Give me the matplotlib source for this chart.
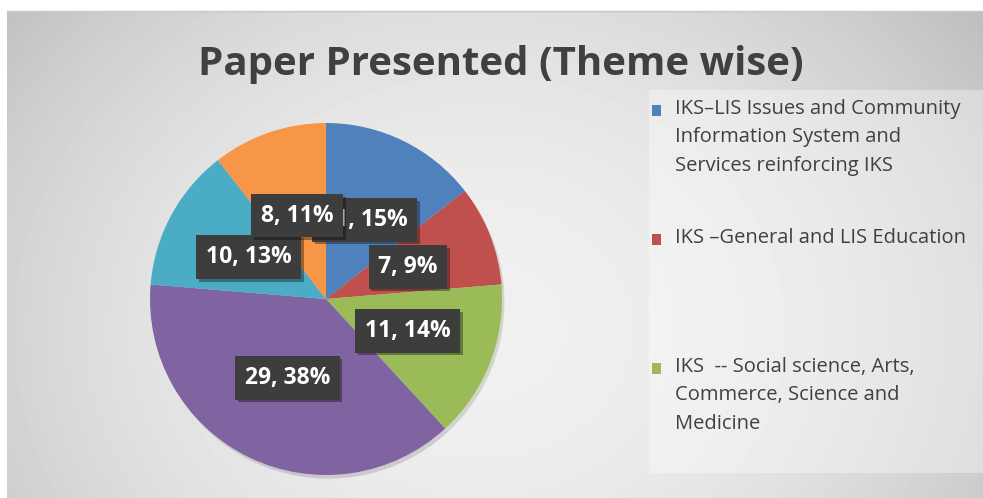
import numpy as np
import matplotlib.pyplot as plt
from matplotlib.patches import Rectangle
import matplotlib.patheffects as pe

# data (slices go clockwise from 12 o'clock)
values = [11, 7, 11, 29, 10, 8]
percents = [15, 9, 14, 38, 13, 11]
colors = ["#4F81BD", "#C0504D", "#9BBB59", "#8064A2", "#4BACC6", "#F79646"]

# only the first three entries of the legend are visible in the original
legend_labels = [
    "IKS\u2013LIS Issues and Community\nInformation System and\nServices reinforcing IKS",
    "IKS \u2013General and LIS Education",
    "IKS  -- Social science, Arts,\nCommerce, Science and\nMedicine",
]

W, H = 983, 498
TEXT = "#404040"
FONT = "Open Sans"


def fx(px):
    return px / W


def fy(py):
    return 1 - py / H


fig = plt.figure(figsize=(W / 100, H / 100), dpi=100)

# grey radial-ish background of the chart area
bg = fig.add_axes([0, 0, 1, 1])
bg.set_xlim(0, W)
bg.set_ylim(H, 0)
bg.axis("off")
xx, yy = np.meshgrid(np.arange(7, W), np.arange(11, H))
r2 = ((xx - 480) / 500.0) ** 2 + ((yy - 330) / 420.0) ** 2
lum = np.clip(240 - 32 * r2, 190, 242) / 255.0
bg.imshow(lum, cmap="gray", vmin=0, vmax=1, extent=(7, W, H, 11), aspect="auto")
bg.plot([7, W], [11, 11], color="#c8c8c8", lw=1)

# lighter legend panel
bg.add_patch(Rectangle((649, 90), W - 649, 383, facecolor="white", alpha=0.35,
                       edgecolor="none"))

# title
fig.text(fx(501), fy(64), "Paper Presented (Theme wise)", ha="center", va="center",
         fontsize=29, fontweight="bold", color=TEXT, family=FONT)

# pie
cx, cy, rad = 326, 299, 176
ax = fig.add_axes([fx(cx - rad), fy(cy + rad), 2 * rad / W, 2 * rad / H])
wedges, _ = ax.pie(values, colors=colors, startangle=90, counterclock=False,
                   radius=1, wedgeprops=dict(linewidth=0),
                   shadow=dict(ox=0.01, oy=-0.015, shade=0.5, alpha=0.18))
ax.set_xlim(-1, 1)
ax.set_ylim(-1, 1)
ax.set_aspect("auto")
ax.axis("off")

for w, v, p in zip(wedges, values, percents):
    ang = np.deg2rad((w.theta1 + w.theta2) / 2)
    t = ax.text(0.5 * np.cos(ang), 0.5 * np.sin(ang), f"{v}, {p}%",
                ha="center", va="center", fontsize=16.5, fontweight="bold",
                color="white", family=FONT,
                bbox=dict(boxstyle="square,pad=0.42", facecolor="#3d3d3d",
                          edgecolor="none"))
    t.get_bbox_patch().set_path_effects(
        [pe.SimplePatchShadow(offset=(2, -2), shadow_rgbFace="black", alpha=0.35),
         pe.Normal()])

# legend (drawn by hand so the swatch sits on the first line)
for i, (lab, col) in enumerate(zip(legend_labels, colors)):
    top = 99 + i * 129
    bg.add_patch(Rectangle((652, top + 6), 9, 11, facecolor=col, edgecolor="none"))
    bg.text(675, top, lab, ha="left", va="top", fontsize=14.5, color=TEXT,
            family=FONT, linespacing=1.55)

fig.savefig("out.png", dpi=100)
